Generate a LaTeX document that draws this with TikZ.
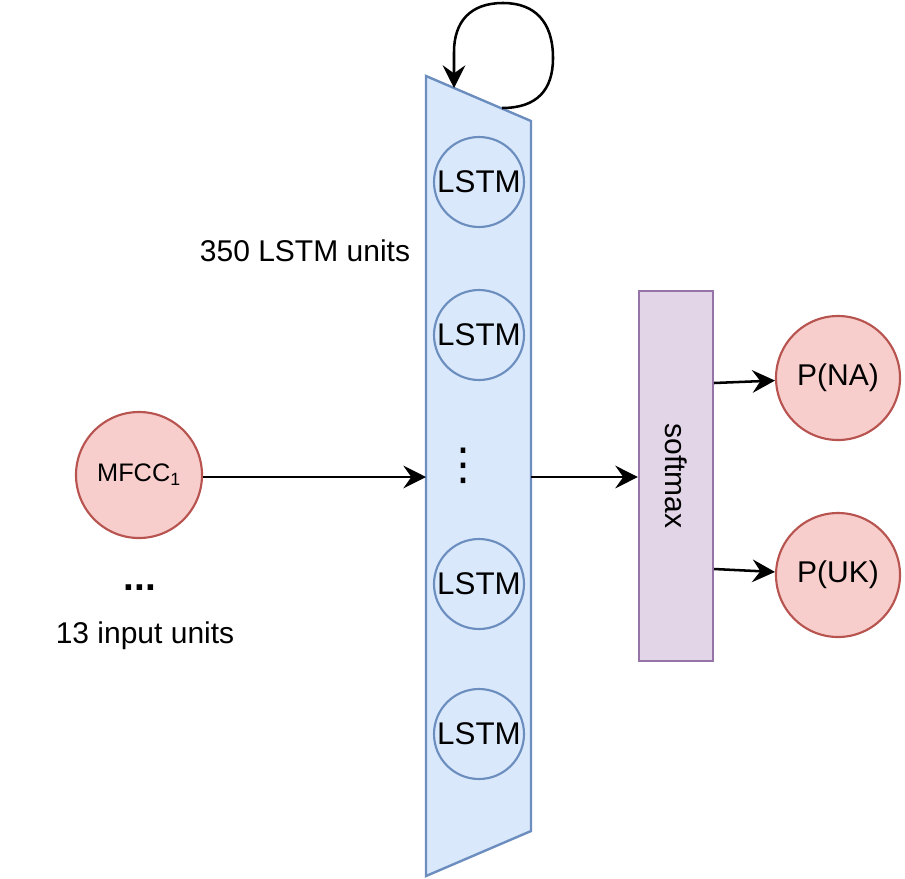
\documentclass[tikz,border=0pt]{standalone}
\usepackage{fontspec}
\setmainfont{Liberation Sans}
\newfontfamily\symfont{DejaVu Sans}
\usetikzlibrary{arrows.meta}

\definecolor{blueFill}{HTML}{DAE8FC}
\definecolor{blueLine}{HTML}{6C8EBF}
\definecolor{redFill}{HTML}{F8CECC}
\definecolor{redLine}{HTML}{B85450}
\definecolor{purpleFill}{HTML}{E1D5E7}
\definecolor{purpleLine}{HTML}{9673A6}

\tikzset{
  arr/.style={draw,line width=1.9pt,-{Stealth[length=17pt,width=17pt,inset=6pt]}},
  unit/.style={circle,draw=blueLine,fill=blueFill,line width=1.6pt,minimum size=67.5pt,inner sep=0pt,font=\fontsize{23.5}{27}\selectfont},
  outunit/.style={circle,draw=redLine,fill=redFill,line width=1.6pt,minimum size=93pt,inner sep=0pt,font=\fontsize{22.5}{27}\selectfont},
  lbl/.style={inner sep=0pt,font=\fontsize{22.5}{27}\selectfont}
}

\begin{document}
\begin{tikzpicture}[x=0.75pt,y=-0.75pt]

      \useasboundingbox (0,0) rectangle (905,878);

      % lstm layer
      \draw[draw=blueLine,fill=blueFill,line width=1.8pt] (426,76) -- (531,121) -- (531,831) -- (426,876) -- cycle;
      \coordinate (layerin)  at (426,477);
      \coordinate (layerout) at (531,477);
      \coordinate (loopA)    at (502,108);
      \coordinate (loopB)    at (454,88);

      \begin{scope}[every node/.style={unit}]
        \node (lstm1) at (479,182) {LSTM};
        \node (lstm2) at (479,335) {LSTM};
        \node (lstm3) at (479,584) {LSTM};
        \node (lstm4) at (479,734) {LSTM};
      \end{scope}
      \node[inner sep=0pt,font=\fontsize{33}{36}\selectfont\symfont] (vdots) at (463,466) {⋮};

      % input, softmax and outputs
      \node[circle,draw=redLine,fill=redFill,line width=1.6pt,minimum size=94.5pt,inner sep=0pt,font=\fontsize{19}{23}\selectfont] (mfcc) at (139,475) {MFCC\textsubscript{1}};
      \node[draw=purpleLine,fill=purpleFill,line width=1.6pt,minimum width=55.5pt,minimum height=277.5pt,inner sep=0pt] (softmax) at (676,476) {};
      \node[lbl,rotate=-90] (smtext) at (676,476) {softmax};

      \begin{scope}[every node/.style={outunit}]
        \node (pna) at (838,378) {P(NA)};
        \node (puk) at (838,575) {P(UK)};
      \end{scope}

      % labels
      \node[lbl] (lstmlbl) at (305,251) {350 LSTM units};
      \node[lbl] (inlbl)   at (145,636) {13 input units};
      \node[lbl,font=\fontsize{29}{32}\selectfont\bfseries] (hdots) at (140,588) {...};

      \begin{scope}[every edge/.style={arr}]
        \path (mfcc.east |- layerin) edge (layerin);
        \path (layerout) edge (layerout -| softmax.west);
        \path ([yshift=69.75pt]softmax.east) edge (pna);
        \path ([yshift=-69.75pt]softmax.east) edge (puk);
      \end{scope}

      % recurrent loop
      \draw[arr] (loopA) .. controls (537,108) and (553,90) .. (553,58)
                 .. controls (553,22) and (535,3) .. (503,3)
                 .. controls (470,3) and (454,22) .. (454,52) -- (loopB);

    \end{tikzpicture}
\end{document}
